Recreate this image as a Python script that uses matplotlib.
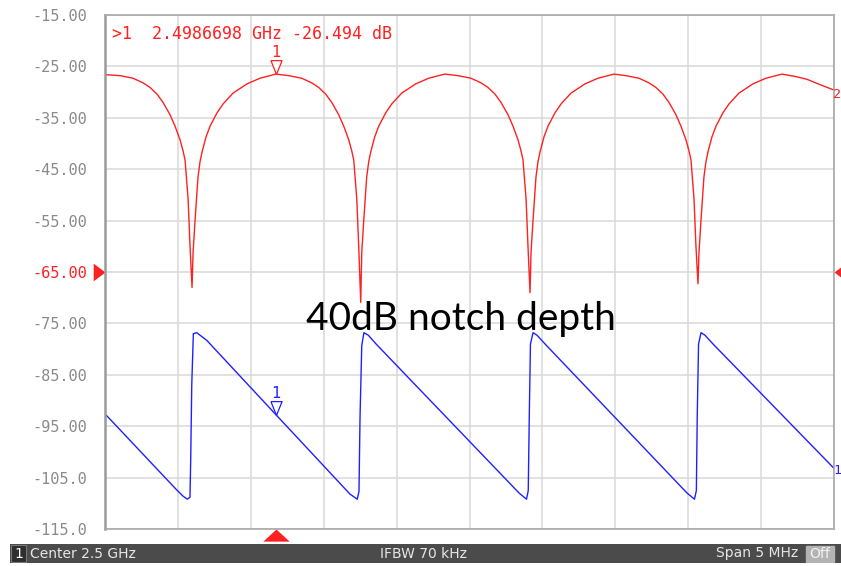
import matplotlib.pyplot as plt
import numpy as np
from matplotlib.patches import Rectangle

# VNA screen: 5 MHz span around 2.5 GHz, frequencies in MHz
f_start, f_stop = 2497.5, 2502.5

# trace 2 (red) - magnitude, dB
red_f = [2497.500,
         2497.603, 2497.692, 2497.761, 2497.809, 2497.857, 2497.898, 2497.946, 2497.980,
         2498.015, 2498.035, 2498.049, 2498.070, 2498.083, 2498.097, 2498.104, 2498.118,
         2498.138, 2498.152, 2498.166, 2498.193, 2498.221, 2498.269, 2498.310, 2498.378,
         2498.474, 2498.563, 2498.632, 2498.670,
         2498.760, 2498.849, 2498.918, 2498.966, 2499.014, 2499.055, 2499.103, 2499.137,
         2499.172, 2499.192, 2499.206, 2499.227, 2499.240, 2499.254, 2499.261, 2499.275,
         2499.295, 2499.309, 2499.323, 2499.350, 2499.378, 2499.426, 2499.467, 2499.535,
         2499.631, 2499.720, 2499.789, 2499.830,
         2499.921, 2500.010, 2500.079, 2500.127, 2500.175, 2500.216, 2500.264, 2500.298,
         2500.333, 2500.353, 2500.367, 2500.388, 2500.401, 2500.415, 2500.422, 2500.436,
         2500.456, 2500.470, 2500.484, 2500.511, 2500.539, 2500.587, 2500.628, 2500.696,
         2500.792, 2500.881, 2500.950, 2500.991,
         2501.073, 2501.162, 2501.231, 2501.279, 2501.327, 2501.368, 2501.416, 2501.450,
         2501.485, 2501.505, 2501.519, 2501.540, 2501.553, 2501.567, 2501.574, 2501.588,
         2501.608, 2501.622, 2501.636, 2501.663, 2501.691, 2501.739, 2501.780, 2501.848,
         2501.944, 2502.033, 2502.102, 2502.143,
         2502.225, 2502.314, 2502.400, 2502.500]
red_db = [-26.6,
          -26.8, -27.3, -28.2, -29.1, -30.4, -32.0, -34.4, -36.6,
          -39.3, -41.4, -43.2, -50.8, -59.9, -68.0, -61.2, -54.8,
          -46.5, -43.5, -41.6, -38.7, -36.6, -34.0, -32.3, -30.2,
          -28.4, -27.3, -26.8, -26.494,
          -26.8, -27.3, -28.2, -29.1, -30.4, -32.0, -34.4, -36.6,
          -39.3, -41.4, -43.2, -50.8, -59.9, -70.9, -61.2, -54.8,
          -46.5, -43.5, -41.6, -38.7, -36.6, -34.0, -32.3, -30.2,
          -28.4, -27.3, -26.8, -26.5,
          -26.8, -27.3, -28.2, -29.1, -30.4, -32.0, -34.4, -36.6,
          -39.3, -41.4, -43.2, -50.8, -59.9, -69.0, -61.2, -54.8,
          -46.5, -43.5, -41.6, -38.7, -36.6, -34.0, -32.3, -30.2,
          -28.4, -27.3, -26.8, -26.5,
          -26.8, -27.3, -28.2, -29.1, -30.4, -32.0, -34.4, -36.6,
          -39.3, -41.4, -43.2, -50.8, -59.9, -67.3, -61.2, -54.8,
          -46.5, -43.5, -41.6, -38.7, -36.6, -34.0, -32.3, -30.2,
          -28.4, -27.3, -26.8, -26.5,
          -26.9, -27.5, -28.5, -29.6]

# trace 1 (blue)
blue_f = [2497.500, 2497.992, 2498.035, 2498.064, 2498.083, 2498.088, 2498.095, 2498.106,
          2498.129, 2498.198, 2498.654,
          2499.180, 2499.230, 2499.242, 2499.249, 2499.261, 2499.276, 2499.306, 2499.359,
          2500.340, 2500.391, 2500.403, 2500.410, 2500.418, 2500.436, 2500.463, 2500.518,
          2501.492, 2501.543, 2501.556, 2501.562, 2501.571, 2501.588, 2501.615, 2501.670,
          2502.500]
blue_db = [-92.6, -107.4, -108.6, -109.2, -108.8, -101.2, -87.0, -77.0,
           -76.8, -78.3, -92.2,
           -108.2, -109.2, -107.7, -93.5, -79.3, -76.8, -77.3, -79.0,
           -108.0, -109.2, -107.5, -93.0, -79.0, -76.8, -77.3, -79.0,
           -108.0, -109.2, -107.5, -93.0, -79.0, -76.8, -77.3, -79.0,
           -103.2]

marker_f = 2498.6698
marker_red = -26.494
marker_blue = -92.8
ref_level = -65

y_ticks = [-115, -105, -95, -85, -75, -65, -55, -45, -35, -25, -15]
y_labels = ["-115.0", "-105.0", "-95.00", "-85.00", "-75.00", "-65.00",
            "-55.00", "-45.00", "-35.00", "-25.00", "-15.00"]

RED = "#ff2020"
BLUE = "#2020ff"
W, H = 841, 566

fig = plt.figure(figsize=(W / 100, H / 100), dpi=100)
fig.patch.set_facecolor("white")
ax = fig.add_axes([105 / W, 1 - 529 / H, 729 / W, 514 / H])

ax.set_xlim(f_start, f_stop)
ax.set_ylim(-115, -15)
ax.set_xticks(np.linspace(f_start, f_stop, 11))
ax.set_xticklabels([])
ax.set_yticks(y_ticks)
ax.set_yticklabels(y_labels, family="DejaVu Sans Mono", fontsize=11, color="#8a8a8a")
ax.get_yticklabels()[y_ticks.index(ref_level)].set_color(RED)
ax.tick_params(length=0, pad=13)
ax.grid(color="#d9d9d9", lw=1.1)
ax.set_axisbelow(True)
for s in ax.spines.values():
    s.set_color("#a8a8a8")
    s.set_linewidth(1.2)
ax.spines["left"].set_color("#9a9a9a")
ax.spines["left"].set_linewidth(1.8)

ax.plot(red_f, red_db, color=RED, lw=1.0)
ax.plot(blue_f, blue_db, color=BLUE, lw=1.0)

# marker triangles (tip sits on the trace)
tri_down = [(-0.4, 1.0), (0.4, 1.0), (0.0, 0.0), (-0.4, 1.0)]
ax.plot([marker_f], [marker_red], marker=tri_down, ms=20, mfc="white", mec=RED, mew=0.9)
ax.plot([marker_f], [marker_blue], marker=tri_down, ms=20, mfc="white", mec=BLUE, mew=0.9)
ax.annotate("1", (marker_f, marker_red), xytext=(0, 15.5), textcoords="offset points",
            ha="center", va="center", color=RED, family="DejaVu Sans Mono", fontsize=11)
ax.annotate("1", (marker_f, marker_blue), xytext=(0, 15.5), textcoords="offset points",
            ha="center", va="center", color=BLUE, family="DejaVu Sans Mono", fontsize=11)

# reference level / stimulus arrows
tri_right = [(-1, 0.75), (-1, -0.75), (0, 0), (-1, 0.75)]
tri_left = [(1, 0.75), (1, -0.75), (0, 0), (1, 0.75)]
tri_up = [(-1, -0.92), (1, -0.92), (0, 0), (-1, -0.92)]
yt = ax.get_yaxis_transform()
ax.plot([0], [ref_level], marker=tri_right, ms=17, color=RED, mew=0, transform=yt, clip_on=False)
ax.plot([1], [ref_level], marker=tri_left, ms=17, color=RED, mew=0, transform=yt, clip_on=False)
ax.plot([marker_f], [0], marker=tri_up, ms=19, color=RED, mew=0,
        transform=ax.get_xaxis_transform(), clip_on=False)

ax.text(0.01, 0.98, ">1  2.4986698 GHz -26.494 dB", transform=ax.transAxes, ha="left",
        va="top", color=RED, family="DejaVu Sans Mono", fontsize=12)

# trace numbers at the right edge
fig.text(833 / W, 1 - 95 / H, "2", color=RED, family="DejaVu Sans Mono", fontsize=9.5,
         ha="left", va="center")
fig.text(833 / W, 1 - 470 / H, "1", color=BLUE, family="DejaVu Sans Mono", fontsize=9.5,
         ha="left", va="center")

fig.text(461 / W, 1 - 319 / H, "40dB notch depth", ha="center", va="center",
         family="Lato", fontsize=28, color="black")

# status bar
bar = fig.add_axes([10 / W, 1 - 563 / H, 831 / W, 19 / H])
bar.set_xlim(10, 841)
bar.set_ylim(0, 19)
bar.axis("off")
bar.add_patch(Rectangle((10, 0), 831, 19, color="#4b4b4b"))
bar.add_patch(Rectangle((11, 1), 15, 17, facecolor="#2e2e2e", edgecolor="#777777", lw=0.8))
bar.add_patch(Rectangle((806, 1.5), 28, 16, color="#b3b3b3"))
bar.text(18.5, 9.5, "1", color="white", ha="center", va="center", fontsize=10)
bar.text(30, 9.5, "Center 2.5 GHz", color="#e6e6e6", ha="left", va="center", fontsize=10)
bar.text(424, 9.5, "IFBW 70 kHz", color="#e6e6e6", ha="center", va="center", fontsize=10)
bar.text(798, 9.5, "Span 5 MHz", color="#e6e6e6", ha="right", va="center", fontsize=10)
bar.text(820, 9.5, "Off", color="#f2f2f2", ha="center", va="center", fontsize=10)

fig.savefig("out.png", dpi=100)
